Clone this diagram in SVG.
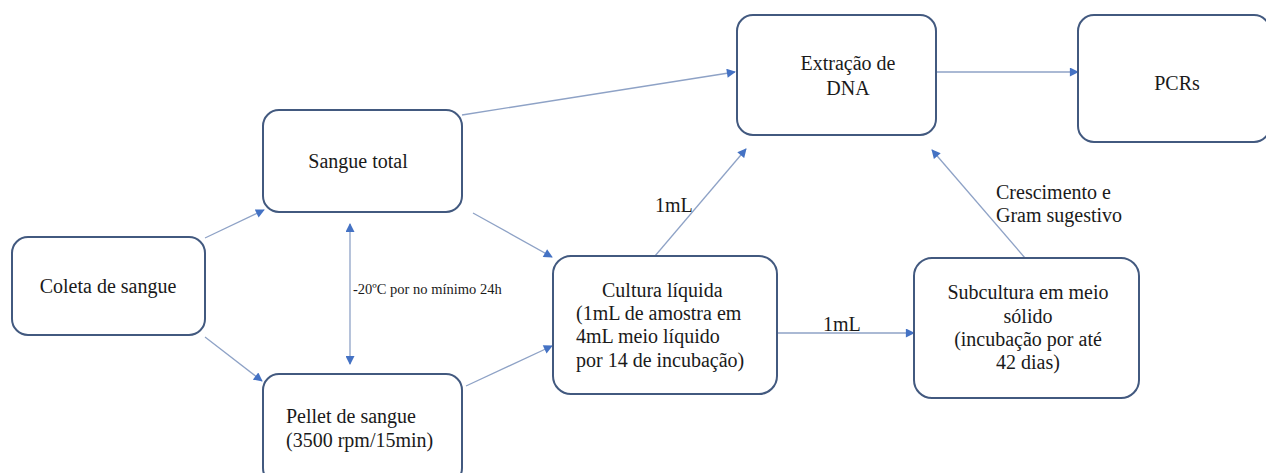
<svg xmlns="http://www.w3.org/2000/svg" width="1266" height="473" viewBox="0 0 1266 473">
<style>
.box{fill:#fff;stroke:#42597f;stroke-width:2}
text{font-family:'Liberation Serif','Times New Roman',Times,serif;font-size:20px;fill:#1a1a1a}
.c{text-anchor:middle}
.s{font-size:14.5px}
.ln{stroke:#8ea2c6;stroke-width:1.3;fill:none}
</style>
<defs>
<marker id="ah" viewBox="0 0 10 10" refX="9" refY="5" markerWidth="10" markerHeight="9" markerUnits="userSpaceOnUse" orient="auto-start-reverse">
<path d="M0,0 L10,5 L0,10 z" fill="#4472c4"/>
</marker>
</defs>
<rect width="1266" height="473" fill="#fff"/>
<g id="connectors">
<line class="ln" x1="205" y1="238" x2="264" y2="210" marker-end="url(#ah)"/>
<line class="ln" x1="205" y1="337" x2="262" y2="381" marker-end="url(#ah)"/>
<line class="ln" x1="462" y1="115" x2="735" y2="72" marker-end="url(#ah)"/>
<line class="ln" x1="473" y1="213" x2="552" y2="257" marker-end="url(#ah)"/>
<line class="ln" x1="466" y1="386" x2="552" y2="346" marker-end="url(#ah)"/>
<line class="ln" x1="350" y1="224" x2="350" y2="364" marker-start="url(#ah)" marker-end="url(#ah)"/>
<line class="ln" x1="655" y1="256" x2="746" y2="149" marker-end="url(#ah)"/>
<line class="ln" x1="777" y1="333" x2="914" y2="333" marker-end="url(#ah)"/>
<line class="ln" x1="1025" y1="258" x2="932" y2="150" marker-end="url(#ah)"/>
<line class="ln" x1="936" y1="72" x2="1078" y2="72" marker-end="url(#ah)"/>
<text class="s" x="353" y="294">-20ºC por no mínimo 24h</text>
<text x="655" y="212">1mL</text>
<text x="823" y="331">1mL</text>
<text x="996" y="199">Crescimento e</text>
<text x="996" y="222">Gram sugestivo</text>
</g>
<g id="coleta">
<rect class="box" x="12" y="237" width="193" height="98" rx="16"/>
<text class="c" x="108" y="293">Coleta de sangue</text>
</g>
<g id="sangue-total">
<rect class="box" x="263" y="110" width="199" height="102" rx="16"/>
<text class="c" x="358" y="168">Sangue total</text>
</g>
<g id="pellet">
<rect class="box" x="263" y="374" width="199" height="110" rx="16"/>
<text x="286" y="423">Pellet de sangue</text>
<text x="286" y="447">(3500 rpm/15min)</text>
</g>
<g id="cultura">
<rect class="box" x="553" y="256" width="224" height="138" rx="18"/>
<text x="602" y="297">Cultura líquida</text>
<text x="576" y="320">(1mL de amostra em</text>
<text x="576" y="343">4mL meio líquido</text>
<text x="576" y="367">por 14 de incubação)</text>
</g>
<g id="subcultura">
<rect class="box" x="914" y="258" width="225" height="140" rx="18"/>
<text class="c" x="1028" y="299">Subcultura em meio</text>
<text class="c" x="1028" y="323">sólido</text>
<text class="c" x="1028" y="346">(incubação por até</text>
<text class="c" x="1028" y="369">42 dias)</text>
</g>
<g id="extracao">
<rect class="box" x="737" y="15" width="199" height="120" rx="16"/>
<text class="c" x="848" y="70">Extração de</text>
<text class="c" x="848" y="95">DNA</text>
</g>
<g id="pcrs">
<rect class="box" x="1078" y="15" width="192" height="127" rx="16"/>
<text class="c" x="1177" y="90">PCRs</text>
</g>
</svg>
